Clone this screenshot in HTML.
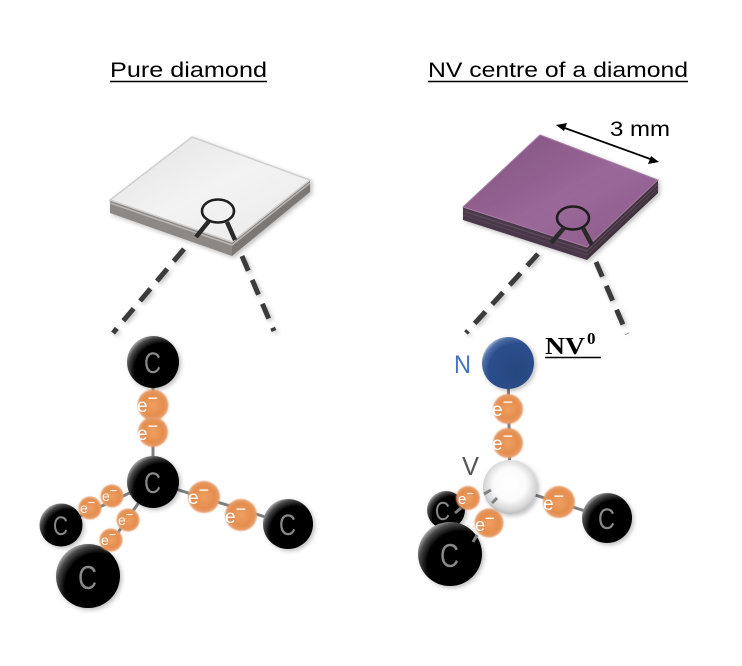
<!DOCTYPE html>
<html><head><meta charset="utf-8"><style>
html,body{margin:0;padding:0;background:#fff;}
svg{display:block;}
text{font-family:"Liberation Sans",sans-serif;}
</style></head><body>
<svg width="742" height="666" viewBox="0 0 742 666" xmlns="http://www.w3.org/2000/svg">
<defs>
  <radialGradient id="blk" cx="0.66" cy="0.66" r="0.75">
    <stop offset="0" stop-color="#000"/>
    <stop offset="0.70" stop-color="#050505"/>
    <stop offset="0.86" stop-color="#4a4a4a"/>
    <stop offset="1" stop-color="#c8c8c8"/>
  </radialGradient>
  <radialGradient id="blu" cx="0.66" cy="0.66" r="0.75">
    <stop offset="0" stop-color="#27477f"/>
    <stop offset="0.72" stop-color="#2c4f8c"/>
    <stop offset="0.88" stop-color="#4e6ea6"/>
    <stop offset="1" stop-color="#c9d4e6"/>
  </radialGradient>
  <radialGradient id="wht" cx="0.5" cy="0.45" r="0.55">
    <stop offset="0" stop-color="#fff"/>
    <stop offset="0.55" stop-color="#fbfbfb"/>
    <stop offset="0.85" stop-color="#d8d8d8"/>
    <stop offset="1" stop-color="#bcbcbc"/>
  </radialGradient>
  <radialGradient id="org" cx="0.5" cy="0.5" r="0.5">
    <stop offset="0" stop-color="#eea063"/>
    <stop offset="0.7" stop-color="#e48d4d"/>
    <stop offset="1" stop-color="#e8a070"/>
  </radialGradient>
  <linearGradient id="topL" x1="0" y1="0" x2="1" y2="1">
    <stop offset="0" stop-color="#e2e2e2"/>
    <stop offset="0.5" stop-color="#f3f3f3"/>
    <stop offset="1" stop-color="#e9e9e9"/>
  </linearGradient>
  <linearGradient id="topR" x1="0" y1="0" x2="1" y2="1">
    <stop offset="0" stop-color="#7e4f7c"/>
    <stop offset="0.55" stop-color="#9b6999"/>
    <stop offset="1" stop-color="#8a5a88"/>
  </linearGradient>
  <filter id="sh" x="-30%" y="-30%" width="160%" height="160%">
    <feDropShadow dx="2" dy="2" stdDeviation="2" flood-color="#000" flood-opacity="0.25"/>
  </filter>
  <filter id="soft" x="-30%" y="-30%" width="160%" height="160%">
    <feGaussianBlur stdDeviation="0.7"/>
  </filter>
</defs>

<!-- Titles -->
<text x="110" y="77" font-size="21" textLength="157" lengthAdjust="spacingAndGlyphs" fill="#000">Pure diamond</text>
<line x1="110" y1="81.5" x2="267" y2="81.5" stroke="#000" stroke-width="1.6"/>
<text x="428" y="77" font-size="21" textLength="260" lengthAdjust="spacingAndGlyphs" fill="#000">NV centre of a diamond</text>
<line x1="428" y1="81.5" x2="688" y2="81.5" stroke="#000" stroke-width="1.6"/>

<!-- Left slab -->
<g filter="url(#sh)">
  <polygon points="110,200 232,242 232,256 110,213" fill="#8c8885"/>
  <polygon points="232,242 310,180 310,192 232,256" fill="#7a7774"/>
  <polyline points="110,203 232,245 310,183" fill="none" stroke="#b8b5b2" stroke-width="1.5"/>
  <polygon points="110,200 192,137 310,180 232,242" fill="url(#topL)" stroke="#cfcfcf" stroke-width="1.5"/>
</g>
<ellipse cx="218" cy="211" rx="16" ry="11.5" fill="none" stroke="#1e1e1e" stroke-width="2.6"/>
<line x1="209" y1="221" x2="196" y2="237" stroke="#2a2a2a" stroke-width="4.5"/>
<line x1="227" y1="222" x2="235" y2="240" stroke="#2a2a2a" stroke-width="4.5"/>

<!-- Right slab -->
<g filter="url(#sh)">
  <polygon points="463,207 587,247 587,260 463,220" fill="#4a3848"/>
  <polygon points="587,247 658,180 658,193 587,260" fill="#3f303e"/>
  <polyline points="463,211 587,251 658,184" fill="none" stroke="#5f4b5d" stroke-width="1.2"/>
  <polyline points="463,215 587,255 658,188" fill="none" stroke="#574455" stroke-width="1"/>
  <polygon points="463,207 540,135 658,180 587,247" fill="url(#topR)" stroke="#a47ca2" stroke-width="1"/>
</g>
<ellipse cx="573" cy="218" rx="16" ry="11.5" fill="none" stroke="#1e1e1e" stroke-width="2.6"/>
<line x1="564" y1="228" x2="551" y2="243" stroke="#2a2a2a" stroke-width="4.5"/>
<line x1="583" y1="228" x2="592" y2="245" stroke="#2a2a2a" stroke-width="4.5"/>

<!-- 3 mm arrow -->
<line x1="562" y1="127" x2="653" y2="160" stroke="#000" stroke-width="1.8"/>
<polygon points="556,125 567,123 564,131" fill="#000"/>
<polygon points="659,162 648,164 651,156" fill="#000"/>
<text x="610" y="136" font-size="21" textLength="60" lengthAdjust="spacingAndGlyphs" fill="#000">3 mm</text>

<!-- Dashed connectors -->
<g stroke="#3a3a3a" stroke-width="5" stroke-dasharray="16 10" filter="url(#sh)">
  <line x1="184" y1="249" x2="113" y2="333"/>
  <line x1="242" y1="256" x2="274" y2="331"/>
  <line x1="538" y1="254" x2="466" y2="333"/>
  <line x1="596" y1="262" x2="627" y2="334"/>
</g>

<!-- Left molecule bonds -->
<g stroke="#7e7e7e" stroke-width="3">
  <line x1="153" y1="362" x2="153" y2="482"/>
  <line x1="153" y1="482" x2="288" y2="524"/>
  <line x1="153" y1="482" x2="61" y2="525"/>
  <line x1="153" y1="482" x2="88" y2="576"/>
</g>
<!-- Left molecule balls -->
<g filter="url(#sh)">
  <circle cx="153" cy="362" r="26" fill="url(#blk)"/>
  <circle cx="153" cy="482" r="26" fill="url(#blk)"/>
  <circle cx="288" cy="524" r="25" fill="url(#blk)"/>
  <circle cx="61" cy="525" r="21.5" fill="url(#blk)"/>
  <circle cx="88" cy="576" r="32" fill="url(#blk)"/>
</g>
<g filter="url(#soft)">
  <circle cx="153" cy="405" r="15.5" fill="url(#org)"/>
  <circle cx="153" cy="432" r="15" fill="url(#org)"/>
  <circle cx="204" cy="497" r="16" fill="url(#org)"/>
  <circle cx="241" cy="515" r="16" fill="url(#org)"/>
  <circle cx="112" cy="496" r="11.5" fill="url(#org)"/>
  <circle cx="90" cy="508" r="11.5" fill="url(#org)"/>
  <circle cx="128" cy="520" r="11.5" fill="url(#org)"/>
  <circle cx="111" cy="540" r="11.5" fill="url(#org)"/>
</g>
<g fill="#888">
  <text x="144" y="373" font-size="30" textLength="17" lengthAdjust="spacingAndGlyphs">C</text>
  <text x="144" y="493" font-size="30" textLength="17" lengthAdjust="spacingAndGlyphs">C</text>
  <text x="279" y="535" font-size="30" textLength="17" lengthAdjust="spacingAndGlyphs">C</text>
  <text x="53" y="535" font-size="27" textLength="15" lengthAdjust="spacingAndGlyphs">C</text>
  <text x="78" y="589" font-size="33" textLength="19" lengthAdjust="spacingAndGlyphs">C</text>
</g>
<g fill="#fff">
  <text x="137" y="412" font-size="19">e<tspan font-size="18" dy="-8">−</tspan></text>
  <text x="137" y="440" font-size="19">e<tspan font-size="18" dy="-8">−</tspan></text>
  <text x="188" y="504" font-size="19">e<tspan font-size="18" dy="-8">−</tspan></text>
  <text x="225" y="523" font-size="19">e<tspan font-size="18" dy="-8">−</tspan></text>
  <text x="102" y="501" font-size="14">e<tspan font-size="13" dy="-6">−</tspan></text>
  <text x="80" y="513" font-size="14">e<tspan font-size="13" dy="-6">−</tspan></text>
  <text x="118" y="525" font-size="14">e<tspan font-size="13" dy="-6">−</tspan></text>
  <text x="101" y="545" font-size="14">e<tspan font-size="13" dy="-6">−</tspan></text>
</g>

<!-- Right molecule bonds -->
<g stroke="#7e7e7e" stroke-width="3">
  <line x1="508" y1="363" x2="510" y2="487"/>
  <line x1="510" y1="487" x2="607" y2="518"/>
</g>
<g filter="url(#sh)">
  <circle cx="508" cy="363" r="26" fill="url(#blu)"/>
</g>
<g filter="url(#soft)">
  <circle cx="508" cy="409" r="15" fill="url(#org)"/>
  <circle cx="508" cy="443" r="15" fill="url(#org)"/>
</g>
<g filter="url(#sh)">
  <circle cx="510" cy="487" r="27" fill="url(#wht)"/>
</g>
<g filter="url(#soft)">
  <circle cx="559" cy="502" r="16" fill="url(#org)"/>
</g>
<g filter="url(#sh)">
  <circle cx="607" cy="518" r="25" fill="url(#blk)"/>
  <circle cx="446" cy="510" r="19" fill="url(#blk)"/>
</g>
<g filter="url(#soft)">
  <circle cx="468" cy="498" r="12" fill="url(#org)"/>
</g>
<g filter="url(#sh)">
  <circle cx="450" cy="554" r="32" fill="url(#blk)"/>
</g>
<g filter="url(#soft)">
  <circle cx="489" cy="523" r="14.5" fill="url(#org)"/>
</g>
<g stroke="#7e7e7e" stroke-width="3">
  <line x1="455" y1="513" x2="461" y2="508"/>
  <line x1="477" y1="535" x2="473" y2="542"/>
  <line x1="484" y1="494" x2="491" y2="490"/>
  <line x1="492" y1="503" x2="497" y2="498"/>
</g>
<g fill="#888">
  <text x="598" y="529" font-size="30" textLength="17" lengthAdjust="spacingAndGlyphs">C</text>
  <text x="435" y="520" font-size="26" textLength="15" lengthAdjust="spacingAndGlyphs">C</text>
  <text x="440" y="567" font-size="33" textLength="19" lengthAdjust="spacingAndGlyphs">C</text>
</g>
<g fill="#fff">
  <text x="492" y="416" font-size="19">e<tspan font-size="18" dy="-8">−</tspan></text>
  <text x="492" y="450" font-size="19">e<tspan font-size="18" dy="-8">−</tspan></text>
  <text x="543" y="510" font-size="19">e<tspan font-size="18" dy="-8">−</tspan></text>
  <text x="458" y="504" font-size="15">e<tspan font-size="13" dy="-6">−</tspan></text>
  <text x="475" y="531" font-size="18">e<tspan font-size="17" dy="-7">−</tspan></text>
</g>
<text x="454" y="373" font-size="25" fill="#4472c4" textLength="17" lengthAdjust="spacingAndGlyphs">N</text>
<text x="462" y="475" font-size="26" fill="#555" textLength="17" lengthAdjust="spacingAndGlyphs">V</text>
<text x="545" y="354" font-size="24" font-weight="bold" fill="#000" style="font-family:'Liberation Serif',serif" textLength="40" lengthAdjust="spacingAndGlyphs">NV</text>
<text x="587" y="344" font-size="17" font-weight="bold" fill="#000" style="font-family:'Liberation Serif',serif">0</text>
<line x1="545" y1="357.5" x2="601" y2="357.5" stroke="#000" stroke-width="1.6"/>
</svg>
</body></html>
